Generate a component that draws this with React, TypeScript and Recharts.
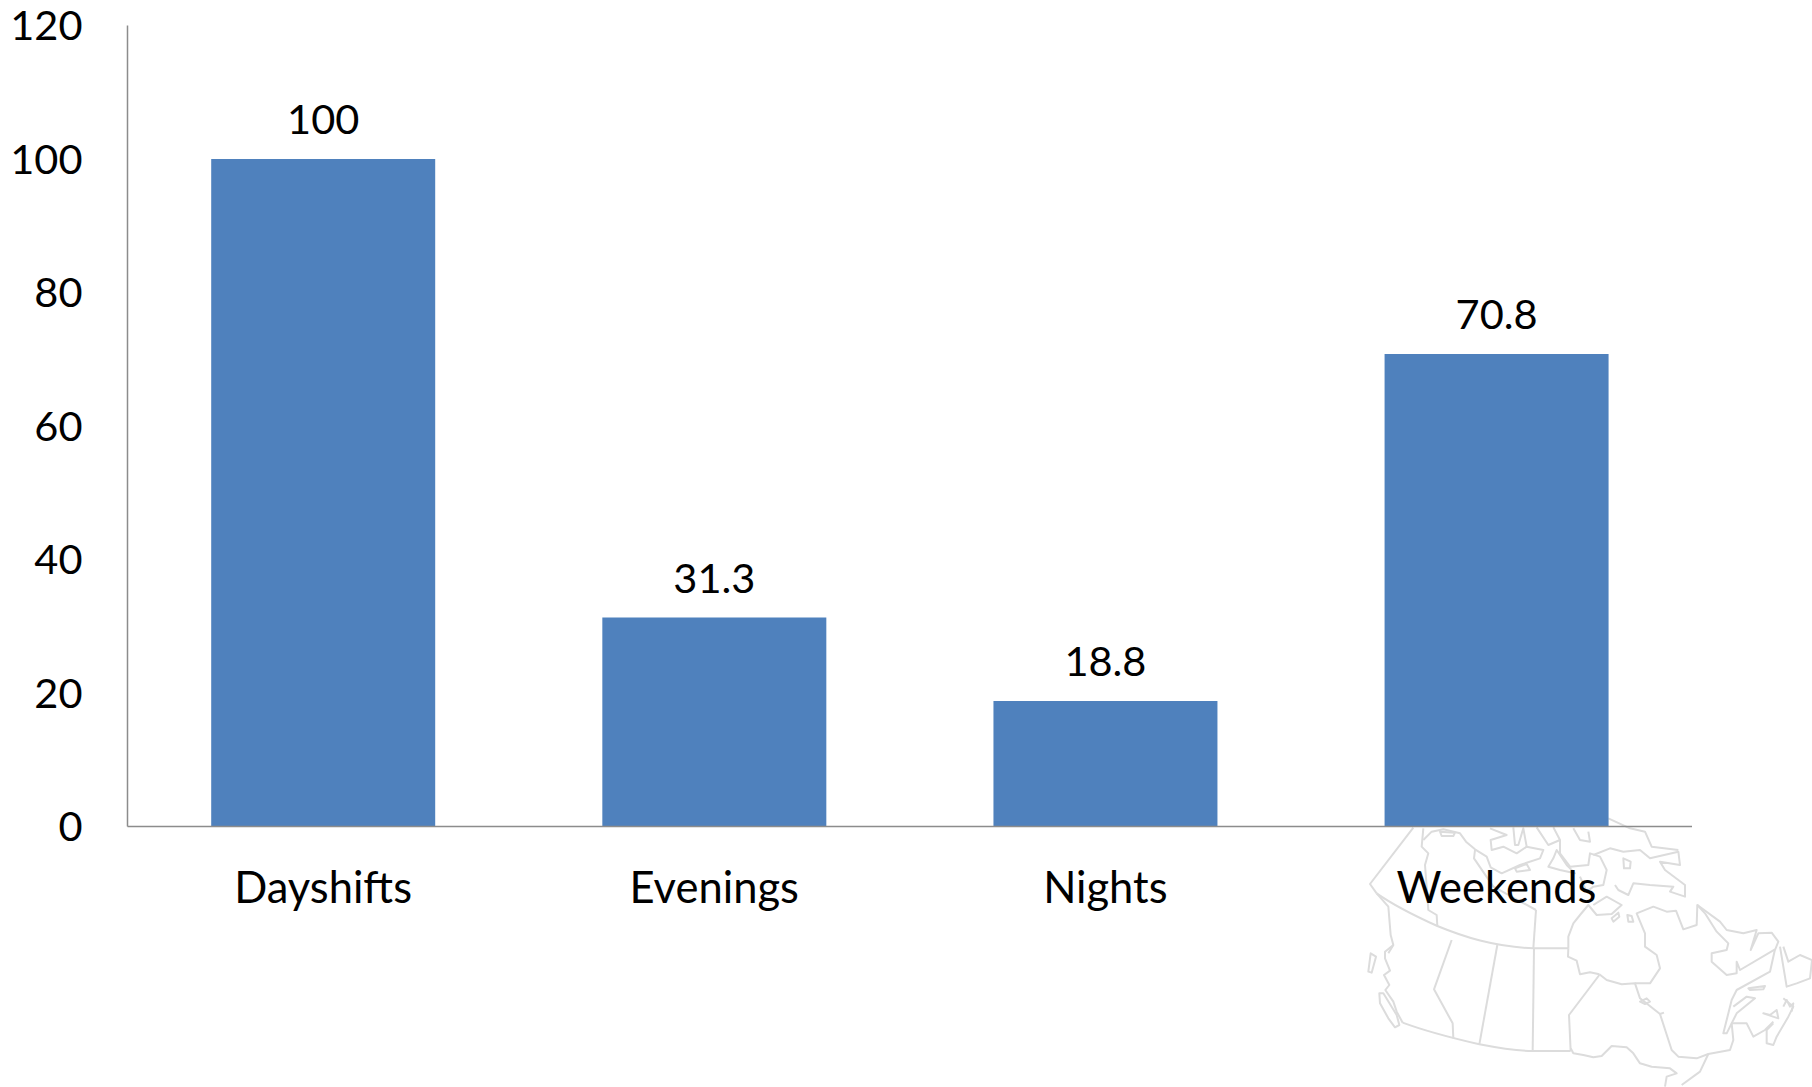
import React from "react";
import { BarChart, Bar, XAxis, YAxis, LabelList } from "recharts";

const categories = ["Dayshifts", "Evenings", "Nights", "Weekends"];
const shiftValues = [100, 31.3, 18.8, 70.8];
const valueTicks = [0, 20, 40, 60, 80, 100, 120];

const chartData = categories.map((name, i) => ({ name, value: shiftValues[i] }));

const FONT = "Lato, Carlito, sans-serif";
const AXIS_COLOR = "#8c8c8c";

// Faint outline of Canada behind the lower right corner, traced in a 3x grid.
const mapNorth = [
  "M220,113 L90,282 110,310",
  "M110,310 C160,345 230,380 292,408 C370,440 460,470 580,475 L685,475",
  "M110,310 L145,350 152,435 160,465 145,490",
  "M250,115 L245,170 265,190 255,225 260,290 265,360 290,375 292,408",
  "M588,360 L580,475",
  "M405,180 L402,205 460,290 588,360",
  "M250,150 L275,125 310,118 360,130 378,155 405,178 440,200 452,232 485,250 540,225 600,205 610,180 560,170 530,190 490,170 455,180 452,150 500,135 450,115",
  "M300,125 L345,128 340,138 305,138 Z",
  "M520,112 L525,165 535,165 550,115 560,170",
  "M590,112 L625,165 660,150 640,112",
  "M650,180 L680,225 705,250 660,240 625,230 640,205 Z",
  "M525,235 L560,222 570,240 530,245 Z",
  "M660,150 L660,190 690,230 745,225 750,190 780,200 800,240 790,285 760,290 740,305 720,260",
  "M700,115 L720,150 750,155 745,125",
  "M760,195 L810,175 850,185 900,180 930,205 1015,185 1020,225 960,215 975,240 1035,285 1035,320 990,305 1000,290 930,285 880,280 865,315 835,300 825,285",
  "M805,85 L870,115 915,125 935,170 1015,180",
  "M850,205 L872,215 870,235 852,235 Z",
  "M760,345 L800,320 845,345 815,372 770,375 745,345 720,375 700,400 685,440 685,475",
  "M815,385 L835,368 838,380 820,395 Z",
  "M862,375 L875,378 880,395 865,395 Z",
];

const mapSouth = [
  "M160,465 L135,485 135,505 150,542 132,555 148,585 136,600 160,635 170,665 188,698",
  "M188,698 C260,725 340,745 418,763 C480,775 540,783 578,783 L692,783",
  "M335,450 L282,598 338,700 340,745",
  "M472,465 L418,763",
  "M582,475 L578,783",
  "M692,783 L687,675 778,555",
  "M685,475 L684,500 710,512 720,553 750,547 778,553",
  "M92,490 L108,500 95,548 85,545 Z",
  "M118,610 L130,610 170,675 178,705 165,712 145,685 120,640 Z",
  "M692,775 L700,790 730,795 760,802 785,798 815,768 860,772 880,790 900,820 935,830 990,835 1010,850 980,860 975,890",
];

const mapEast = [
  "M778,553 L800,570 845,583 885,580 900,625 960,672 972,668",
  "M885,580 L930,580 960,535 950,495 915,470 915,430 890,370 940,350 980,365 1008,362 1030,418 1070,405 1072,345 1140,395 1160,420 1210,430 1250,420 1232,480 1255,430 1295,428 1315,455 1305,480",
  "M1072,345 L1095,370 1130,425 1165,460 1160,480 1115,490 1115,515 1160,555 1190,550 1190,515 1200,540 1305,478",
  "M1305,478 L1290,545 1190,600 1175,630 1150,730 1160,730 1190,670 1245,625 1220,620 1180,650",
  "M960,672 L995,780 1015,800 1070,805 1105,792 1170,780 1180,750 1175,700",
  "M1105,792 L1080,845 1025,885",
  "M1175,700 L1220,700 1240,740 1275,720 1300,695",
  "M1320,470 L1340,590 1370,580 1410,565 1416,510 1380,495 1345,515 1330,470",
  "M1330,625 L1360,650 1345,680 1310,740 1300,765 1280,760 1280,720 1300,700",
  "M1270,670 L1315,685 1310,660 1290,675 1270,670 Z",
  "M1225,595 L1275,588 1270,598 1230,600 Z",
  "M900,635 L920,625 930,635 915,642 Z",
  "M1330,650 L1340,630 1350,650 1360,640 1355,665",
];

export default function App() {
  return (
    <div style={{ position: "absolute", left: 0, top: 0, width: 1812, height: 1087 }}>
      <svg
        width={472}
        height={297}
        viewBox="0 0 1416 891"
        style={{ position: "absolute", left: 1340, top: 790 }}
        fill="none"
        stroke="#dcdcdc"
        strokeWidth={6}
        strokeLinejoin="round"
      >
        {[...mapNorth, ...mapSouth, ...mapEast].map((d, i) => (
          <path key={i} d={d} />
        ))}
      </svg>
      <div style={{ position: "absolute", left: 0, top: 0 }}>
        <BarChart
          width={1812}
          height={1087}
          data={chartData}
          barCategoryGap="21.4%"
          margin={{ top: 25.5, right: 120, bottom: 230.5, left: 0.5 }}
        >
          <XAxis
            dataKey="name"
            interval={0}
            tickLine={false}
            tickMargin={40}
            axisLine={{ stroke: AXIS_COLOR, strokeWidth: 1.5 }}
            tick={{ fill: "#000000", fontSize: 43.5, fontFamily: FONT }}
          />
          <YAxis
            width={127}
            domain={[0, 120]}
            ticks={valueTicks}
            interval={0}
            tickLine={false}
            tickMargin={45}
            tickSize={0}
            axisLine={{ stroke: AXIS_COLOR, strokeWidth: 1.5 }}
            tick={{ fill: "#000000", fontSize: 41.5, fontFamily: FONT }}
          />
          <Bar dataKey="value" fill="#4f81bd" isAnimationActive={false}>
            <LabelList
              dataKey="value"
              position="top"
              offset={25}
              style={{ fill: "#000000", fontSize: 41.5, fontFamily: FONT }}
            />
          </Bar>
        </BarChart>
      </div>
    </div>
  );
}
